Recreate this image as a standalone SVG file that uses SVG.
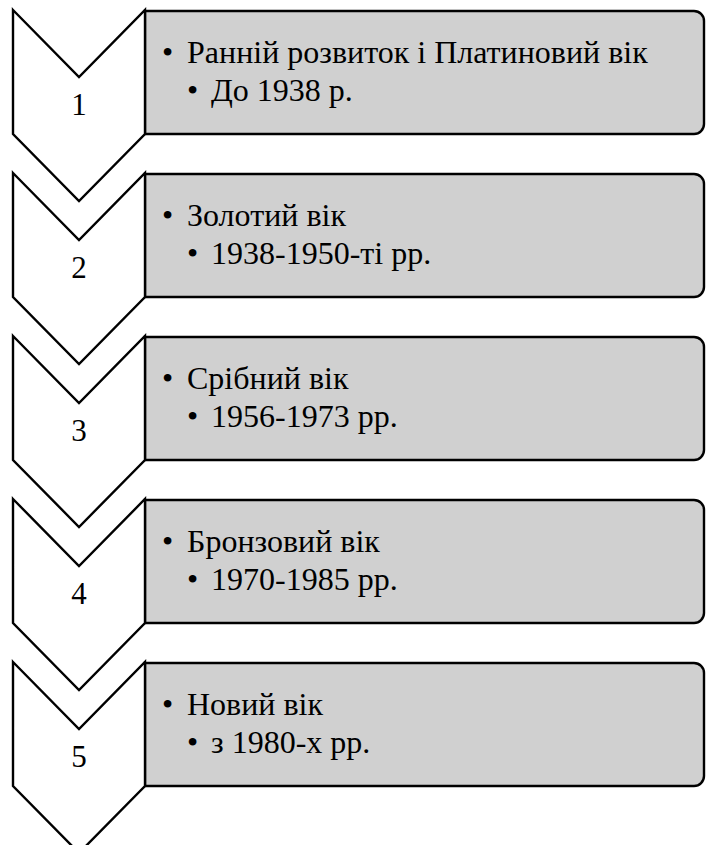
<svg xmlns="http://www.w3.org/2000/svg" width="706" height="845" viewBox="0 0 706 845">
<style>
.chev{fill:#fff;stroke:#000;stroke-width:2.4;stroke-linejoin:miter}
.box{fill:#d0d0d0;stroke:#000;stroke-width:2.4}
text{font-family:"Liberation Serif","Times New Roman",serif;fill:#000}
.t{font-size:32px}
.n{font-size:31px;text-anchor:middle}
</style>
<defs>
<path id="boxp" d="M145,11 H694 A10,10 0 0 1 704,21 V124 A10,10 0 0 1 694,134 H145 Z"/>
<path id="chevp" d="M13,10 L79,77 L145,10 L145,134 L79,201 L13,134 Z"/>
</defs>
<g id="node1">
<use href="#boxp" class="box"/>
<use href="#chevp" class="chev"/>
<text class="n" x="79" y="115">1</text>
<text class="t" x="162" y="63">•</text><text class="t" x="187" y="63">Ранній розвиток і Платиновий вік</text>
<text class="t" x="187" y="101">•</text><text class="t" x="211" y="101">До 1938 р.</text>
</g>
<g id="node2" transform="translate(0,163)">
<use href="#boxp" class="box"/>
<use href="#chevp" class="chev"/>
<text class="n" x="79" y="115">2</text>
<text class="t" x="162" y="63">•</text><text class="t" x="187" y="63">Золотий вік</text>
<text class="t" x="187" y="101">•</text><text class="t" x="211" y="101">1938-1950-ті рр.</text>
</g>
<g id="node3" transform="translate(0,326)">
<use href="#boxp" class="box"/>
<use href="#chevp" class="chev"/>
<text class="n" x="79" y="115">3</text>
<text class="t" x="162" y="63">•</text><text class="t" x="187" y="63">Срібний вік</text>
<text class="t" x="187" y="101">•</text><text class="t" x="211" y="101">1956-1973 рр.</text>
</g>
<g id="node4" transform="translate(0,489)">
<use href="#boxp" class="box"/>
<use href="#chevp" class="chev"/>
<text class="n" x="79" y="115">4</text>
<text class="t" x="162" y="63">•</text><text class="t" x="187" y="63">Бронзовий вік</text>
<text class="t" x="187" y="101">•</text><text class="t" x="211" y="101">1970-1985 рр.</text>
</g>
<g id="node5" transform="translate(0,652)">
<use href="#boxp" class="box"/>
<use href="#chevp" class="chev"/>
<text class="n" x="79" y="115">5</text>
<text class="t" x="162" y="63">•</text><text class="t" x="187" y="63">Новий вік</text>
<text class="t" x="187" y="101">•</text><text class="t" x="211" y="101">з 1980-х рр.</text>
</g>
<g id="connectors"></g>
</svg>
